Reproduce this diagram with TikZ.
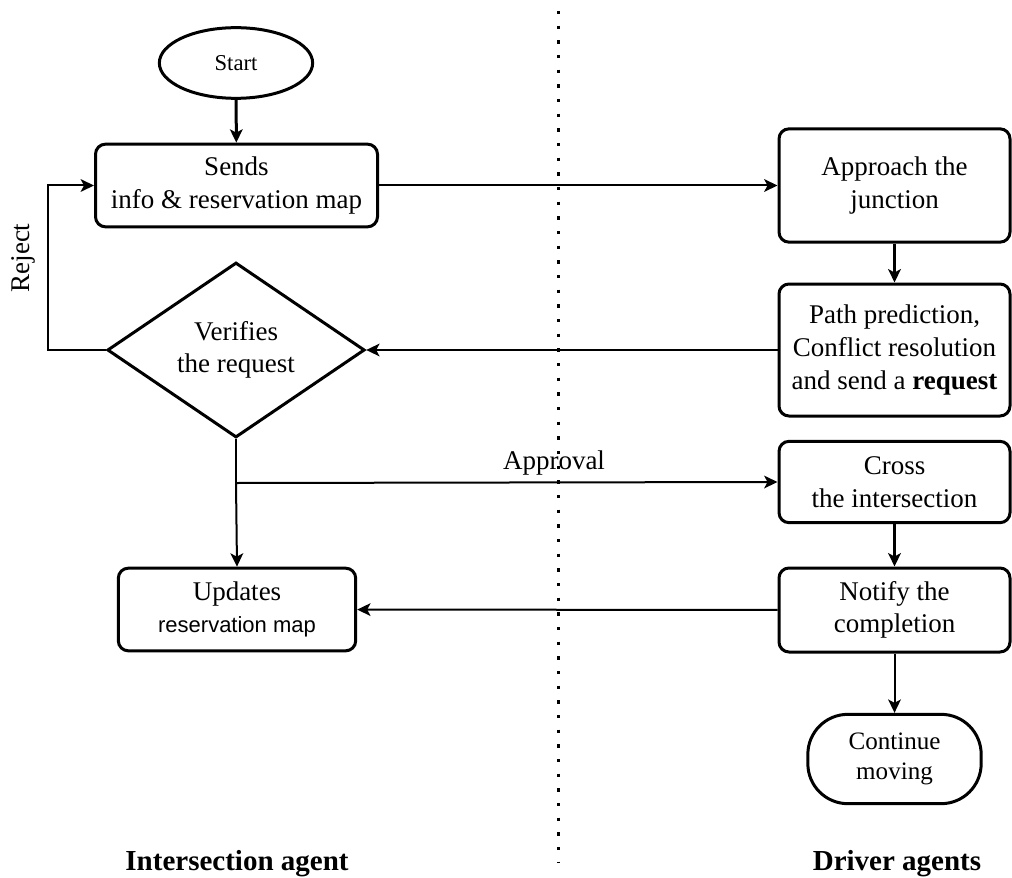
\documentclass[tikz,border=0pt]{standalone}
\usepackage{fontspec}
\setmainfont{Liberation Serif}
\newfontfamily\arialfont{Liberation Sans}
\usetikzlibrary{shapes.geometric,arrows.meta}
\begin{document}
\begin{tikzpicture}[x=0.75pt,y=-0.75pt,
  every node/.style={align=center, inner sep=0pt},
  main/.style={font=\fontsize{20.25}{24.4}\selectfont},
  box/.style={main, draw, line width=2.25pt, rounded corners=7.5pt},
  rbox/.style={box, minimum width=173.25pt},
  tip/.style={-{Stealth[length=10pt,width=9.5pt,inset=2.5pt]}},
  conn/.style={tip, line width=1.5pt},
  thickconn/.style={tip, line width=2.25pt},
  lane/.style={font=\bfseries\fontsize{21.75}{26}\selectfont, anchor=base},
  divider/.style={line width=2.5pt, dash pattern=on 2.5pt off 8.5pt}]
\useasboundingbox (0,0) rectangle (1012,877);

% lane divider
\coordinate (divtop) at (558.5,11);
\coordinate (divbot) at (558.5,862);
\draw[divider] (divtop) -- (divbot);

% intersection agent side
\node[draw, ellipse, line width=2.25pt, minimum width=115pt, minimum height=53pt,
      font=\fontsize{17}{20}\selectfont] (start) at (236,63) {Start};
\node[box, minimum width=211.5pt, minimum height=62pt] (sends) at (236.5,185.5)
  {Sends\\info \& reservation map};
\node[main, draw, diamond, line width=2.25pt, minimum width=193pt, minimum height=121pt]
  (verify) at (236,350) {Verifies\\the request};
\node[box, minimum width=178pt, minimum height=62pt] (updates) at (237,609.5)
  {Updates\\{\arialfont\fontsize{16.5}{20}\selectfont reservation map}};

% driver agents side
\node[rbox, minimum height=85pt] (approach) at (894.5,185.5) {Approach the\\junction};
\node[rbox, minimum height=99pt] (path) at (894.5,350)
  {Path prediction,\\Conflict resolution\\and send a \textbf{request}};
\node[rbox, minimum height=61pt] (cross) at (894.5,482) {Cross\\the intersection};
\node[rbox, minimum height=63pt] (notify) at (894.5,610) {Notify the\\completion};
\node[draw, line width=2.25pt, rounded corners=30pt, minimum width=130pt, minimum height=67pt,
      font=\fontsize{18.8}{22.5}\selectfont] (cont) at (894.5,759) {Continue\\moving};

% connectors
\draw[thickconn] (start) -- (sends);
\draw[conn] (sends) -- (approach);
\draw[thickconn] (approach) -- (path);
\draw[conn] (path) -- (verify);
\coordinate (rejcorner) at (48,350);
\draw[conn] (verify.west) -- (rejcorner) |- (sends.west);
\coordinate (split) at (236,483);
\draw[line width=1.5pt] (verify.south) -- (split);
\draw[conn] (split) -- (cross.west);
\draw[conn] (split) -- (updates.north);
\draw[thickconn] (cross) -- (notify);
\draw[conn] (notify) -- (updates);
\draw[conn] (notify) -- (cont);

% labels
\node[main, rotate=90] (rejectlbl) at (23,258) {Reject};
\node[main, anchor=base] (approvallbl) at (554,469) {Approval};
\node[lane] (ialbl) at (237,870) {Intersection agent};
\node[lane] (dalbl) at (897,870) {Driver agents};
\end{tikzpicture}
\end{document}
